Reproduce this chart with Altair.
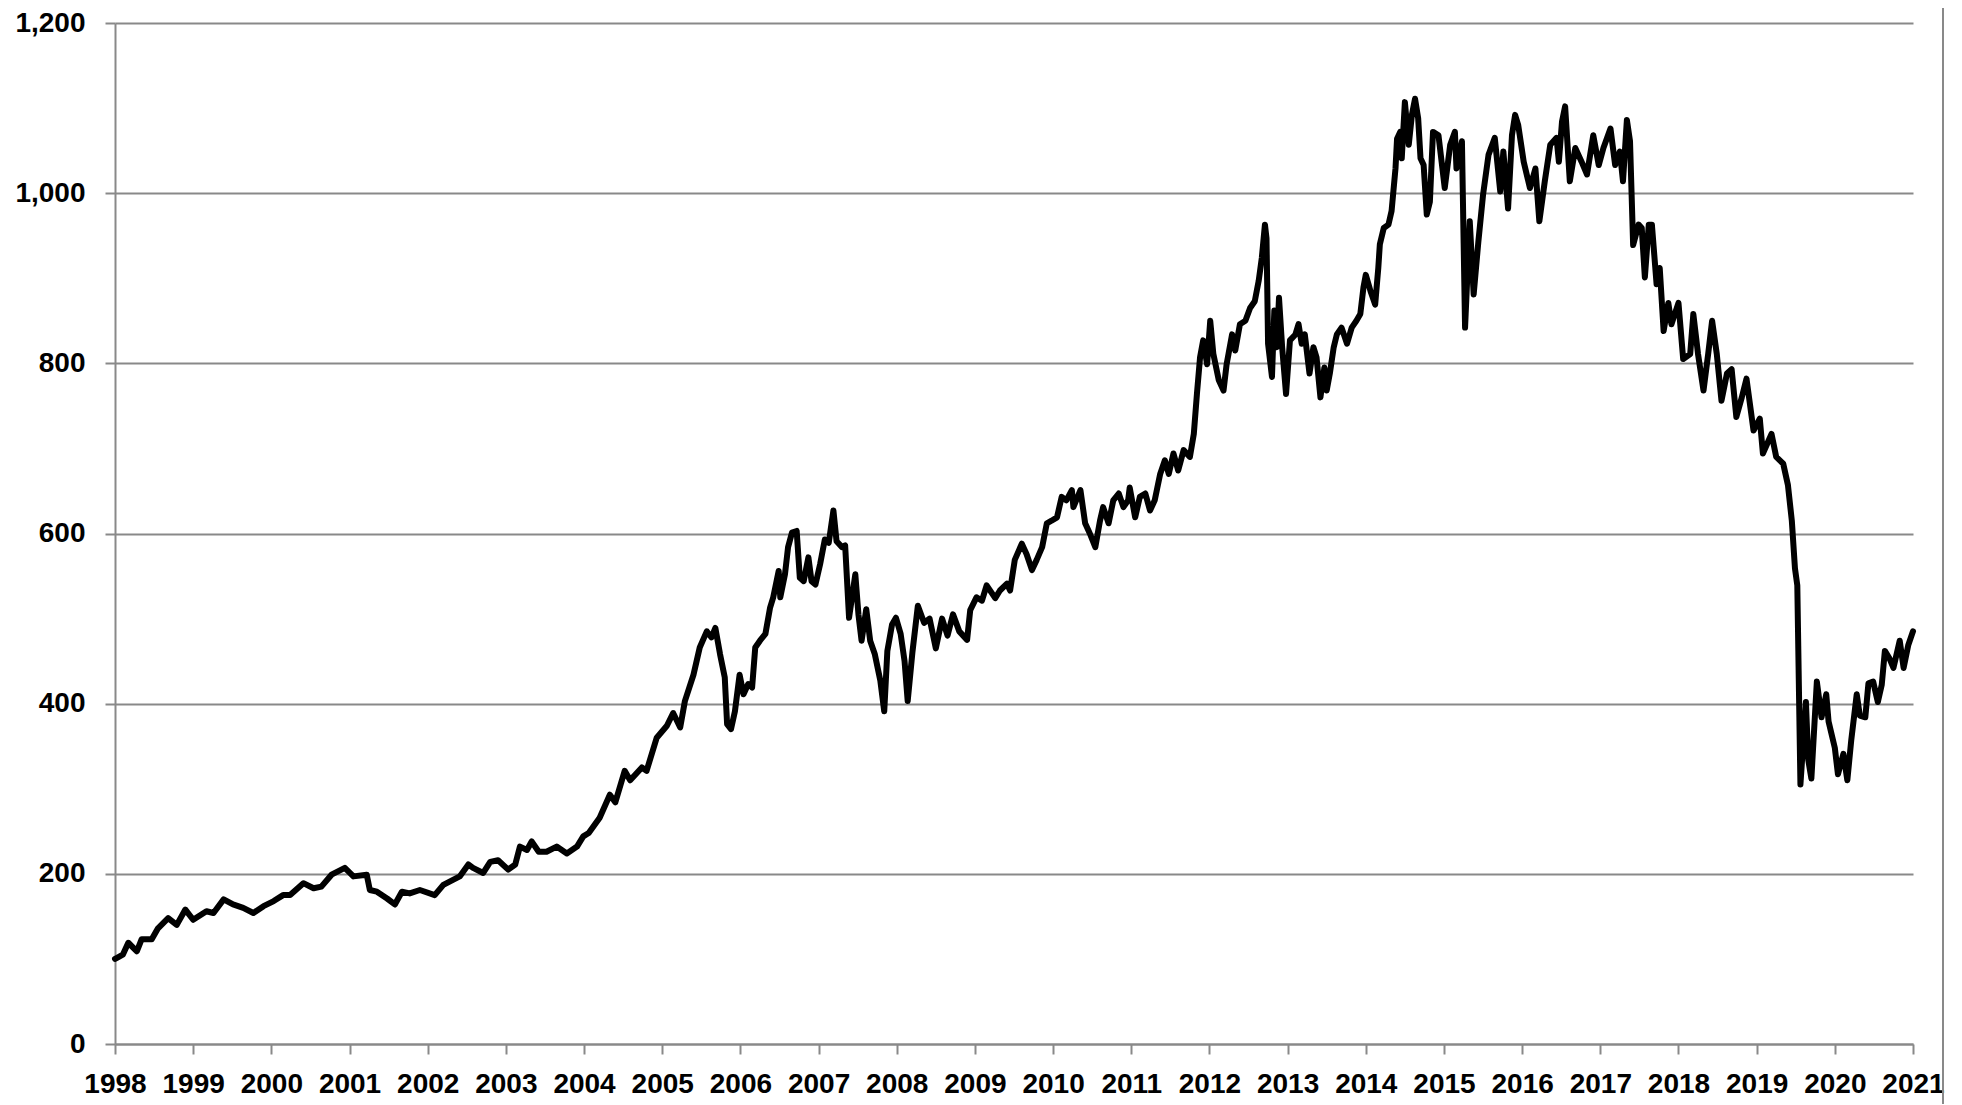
import altair as alt
import pandas as pd

# ---- data (decimal year, index value) ----
YEARS_1998_2003 = [1998.00, 1998.02, 1998.10, 1998.17, 1998.28, 1998.34, 1998.47, 1998.55, 1998.68, 1998.79,
                   1998.90, 1999.00, 1999.17, 1999.26, 1999.39, 1999.51, 1999.64, 1999.77, 1999.90, 2000.03,
                   2000.15, 2000.24, 2000.41, 2000.54, 2000.64, 2000.77, 2000.94, 2001.05, 2001.22, 2001.26,
                   2001.35, 2001.48, 2001.58, 2001.67, 2001.77, 2001.90, 2002.09, 2002.20, 2002.41, 2002.52,
                   2002.58, 2002.71, 2002.80, 2002.90, 2003.03, 2003.12, 2003.18, 2003.27, 2003.33, 2003.42,
                   2003.52, 2003.65, 2003.78, 2003.91, 2003.99]
VALUES_1998_2003 = [100, 101, 105, 119, 109, 123, 123, 136, 148, 140,
                    158, 146, 156, 154, 170, 164, 160, 154, 162, 168,
                    175, 175, 189, 183, 185, 199, 207, 197, 199, 181,
                    179, 171, 164, 179, 177, 181, 175, 187, 197, 211,
                    207, 201, 214, 216, 205, 211, 232, 228, 238, 226,
                    226, 232, 224, 232, 244]

YEARS_2004_2008 = [2004.06, 2004.20, 2004.33, 2004.40, 2004.52, 2004.59, 2004.74, 2004.80, 2004.93, 2005.06,
                   2005.14, 2005.23, 2005.29, 2005.40, 2005.48, 2005.57, 2005.63, 2005.68, 2005.74, 2005.80,
                   2005.83, 2005.88, 2005.93, 2005.99, 2006.04, 2006.10, 2006.15, 2006.19, 2006.25, 2006.32,
                   2006.38, 2006.42, 2006.49, 2006.51, 2006.57, 2006.61, 2006.66, 2006.72, 2006.76, 2006.81,
                   2006.87, 2006.91, 2006.96, 2007.02, 2007.08, 2007.13, 2007.19, 2007.23, 2007.30, 2007.34,
                   2007.39, 2007.47, 2007.51, 2007.55, 2007.61, 2007.66, 2007.72, 2007.79, 2007.84, 2007.88,
                   2007.94, 2007.99]
VALUES_2004_2008 = [248, 266, 293, 284, 321, 310, 325, 321, 360, 374,
                    389, 372, 403, 434, 466, 485, 478, 489, 458, 431,
                    376, 370, 391, 434, 411, 423, 419, 466, 474, 482,
                    513, 525, 556, 525, 552, 584, 601, 603, 548, 544,
                    572, 544, 540, 564, 593, 589, 627, 591, 584, 586,
                    501, 552, 505, 474, 511, 474, 458, 427, 391, 462,
                    493, 501]

YEARS_2008_2012 = [2008.05, 2008.10, 2008.14, 2008.20, 2008.27, 2008.35, 2008.42, 2008.50, 2008.58, 2008.65,
                   2008.72, 2008.80, 2008.90, 2008.94, 2009.02, 2009.09, 2009.15, 2009.26, 2009.32, 2009.41,
                   2009.45, 2009.51, 2009.60, 2009.66, 2009.73, 2009.79, 2009.86, 2009.92, 2009.98, 2010.05,
                   2010.11, 2010.17, 2010.24, 2010.26, 2010.35, 2010.41, 2010.47, 2010.54, 2010.60, 2010.64,
                   2010.71, 2010.77, 2010.84, 2010.90, 2010.96, 2010.98, 2011.05, 2011.11, 2011.18, 2011.24,
                   2011.30, 2011.37, 2011.43, 2011.48, 2011.54, 2011.60, 2011.67, 2011.75, 2011.80, 2011.84,
                   2011.88, 2011.92, 2011.97]
VALUES_2008_2012 = [482, 450, 403, 460, 515, 495, 500, 465, 500, 480,
                    505, 485, 475, 510, 525, 521, 539, 524, 533, 541,
                    533, 569, 588, 576, 557, 569, 584, 612, 615, 619,
                    643, 639, 651, 631, 651, 612, 600, 584, 615, 631,
                    612, 639, 647, 631, 639, 654, 619, 643, 647, 627,
                    639, 670, 686, 670, 694, 674, 698, 690, 717, 764,
                    807, 827, 799]

YEARS_2012_2015 = [2012.01, 2012.05, 2012.12, 2012.18, 2012.22, 2012.29, 2012.33, 2012.39, 2012.46, 2012.52,
                   2012.58, 2012.63, 2012.67, 2012.71, 2012.73, 2012.75, 2012.80, 2012.83, 2012.86, 2012.89,
                   2012.93, 2012.98, 2013.03, 2013.10, 2013.14, 2013.18, 2013.22, 2013.28, 2013.33, 2013.37,
                   2013.42, 2013.47, 2013.50, 2013.54, 2013.59, 2013.63, 2013.69, 2013.76, 2013.82, 2013.88,
                   2013.93, 2013.97, 2014.00, 2014.06, 2014.12, 2014.16, 2014.18, 2014.23, 2014.29, 2014.33,
                   2014.38, 2014.40, 2014.44, 2014.46, 2014.50, 2014.55, 2014.59, 2014.63, 2014.67, 2014.70,
                   2014.74, 2014.78, 2014.82, 2014.86, 2014.93]
VALUES_2012_2015 = [850, 811, 780, 768, 799, 834, 815, 846, 850, 865,
                    873, 897, 924, 963, 947, 823, 784, 862, 819, 877,
                    819, 764, 827, 834, 846, 823, 834, 788, 819, 807,
                    760, 795, 768, 788, 819, 834, 842, 823, 842, 850,
                    858, 889, 904, 885, 869, 912, 940, 959, 963, 979,
                    1029, 1064, 1072, 1041, 1107, 1057, 1092, 1111, 1088, 1041,
                    1033, 975, 990, 1072, 1068]

YEARS_2015_2018 = [2015.01, 2015.08, 2015.14, 2015.16, 2015.23, 2015.27, 2015.33, 2015.38, 2015.44, 2015.50,
                   2015.57, 2015.65, 2015.72, 2015.76, 2015.82, 2015.87, 2015.91, 2015.95, 2016.02, 2016.10,
                   2016.17, 2016.22, 2016.29, 2016.36, 2016.44, 2016.47, 2016.51, 2016.55, 2016.61, 2016.68,
                   2016.76, 2016.83, 2016.91, 2016.98, 2017.04, 2017.13, 2017.19, 2017.25, 2017.29, 2017.34,
                   2017.38, 2017.42, 2017.49, 2017.53, 2017.57, 2017.62, 2017.66, 2017.72, 2017.76, 2017.81,
                   2017.87, 2017.91]
VALUES_2015_2018 = [1006, 1057, 1072, 1029, 1061, 842, 967, 881, 943, 998,
                    1045, 1065, 1002, 1049, 982, 1068, 1092, 1080, 1037, 1006,
                    1029, 967, 1014, 1057, 1065, 1037, 1084, 1102, 1014, 1053,
                    1037, 1022, 1068, 1033, 1053, 1076, 1033, 1049, 1014, 1086,
                    1061, 939, 963, 959, 901, 963, 963, 893, 912, 838,
                    871, 846]

YEARS_2018_2021 = [2018.00, 2018.06, 2018.15, 2018.19, 2018.25, 2018.32, 2018.38, 2018.43, 2018.49, 2018.55,
                   2018.62, 2018.68, 2018.74, 2018.81, 2018.87, 2018.96, 2019.04, 2019.08, 2019.19, 2019.25,
                   2019.34, 2019.40, 2019.45, 2019.49, 2019.52, 2019.56, 2019.63, 2019.66, 2019.70, 2019.77,
                   2019.83, 2019.89, 2019.92, 2020.00, 2020.04, 2020.11, 2020.16, 2020.21, 2020.28, 2020.32,
                   2020.39, 2020.43, 2020.49, 2020.55, 2020.60, 2020.64, 2020.70, 2020.75, 2020.83, 2020.88,
                   2020.94, 2021.00]
VALUES_2018_2021 = [871, 805, 811, 858, 811, 768, 811, 850, 811, 756,
                    788, 793, 737, 760, 782, 721, 735, 694, 717, 690,
                    682, 657, 615, 559, 539, 305, 402, 334, 312, 426,
                    384, 411, 379, 348, 317, 341, 310, 357, 411, 386,
                    384, 424, 426, 402, 422, 462, 453, 442, 474, 442,
                    469, 485]

X_TICKS = list(range(1998, 2022))
Y_TICKS = [0, 200, 400, 600, 800, 1000, 1200]

years = (YEARS_1998_2003 + YEARS_2004_2008 + YEARS_2008_2012 +
         YEARS_2012_2015 + YEARS_2015_2018 + YEARS_2018_2021)
values = (VALUES_1998_2003 + VALUES_2004_2008 + VALUES_2008_2012 +
          VALUES_2012_2015 + VALUES_2015_2018 + VALUES_2018_2021)
df = pd.DataFrame({"year": years, "value": values})

FONT = "Liberation Sans"
GREY = "#898989"
W, H = 1798, 1021

line = alt.Chart(df).mark_line(
    color="black", strokeWidth=6, strokeJoin="round", strokeCap="round"
).encode(
    x=alt.X("year:Q",
            scale=alt.Scale(domain=[1998, 2021], nice=False, zero=False),
            axis=alt.Axis(values=X_TICKS, format="d", title=None, grid=False,
                          tickSize=10, labelPadding=16, labelFlush=False,
                          labelOverlap=False)),
    y=alt.Y("value:Q",
            scale=alt.Scale(domain=[0, 1200], nice=False),
            axis=alt.Axis(values=Y_TICKS, format=",.0f", title=None, grid=True,
                          tickSize=10, labelPadding=20)),
)

frame = alt.Chart(df).mark_rule(color=GREY, strokeWidth=2).encode(
    x=alt.value(W + 30), y=alt.value(-15), y2=alt.value(H + 80)
)

chart = alt.layer(line, frame).properties(
    width=W, height=H,
    autosize=alt.AutoSizeParams(type="none"),
    padding={"left": 107, "top": 15, "right": 40, "bottom": 60},
    background="white",
).configure_view(stroke=None).configure_axis(
    domainColor=GREY, domainWidth=2, tickColor=GREY, tickWidth=2,
    gridColor=GREY, gridWidth=2, gridOpacity=1,
    labelFont=FONT, labelFontSize=28, labelFontWeight="bold", labelColor="black",
)

chart.save("out.html", embed_options={"renderer": "svg", "actions": False})
